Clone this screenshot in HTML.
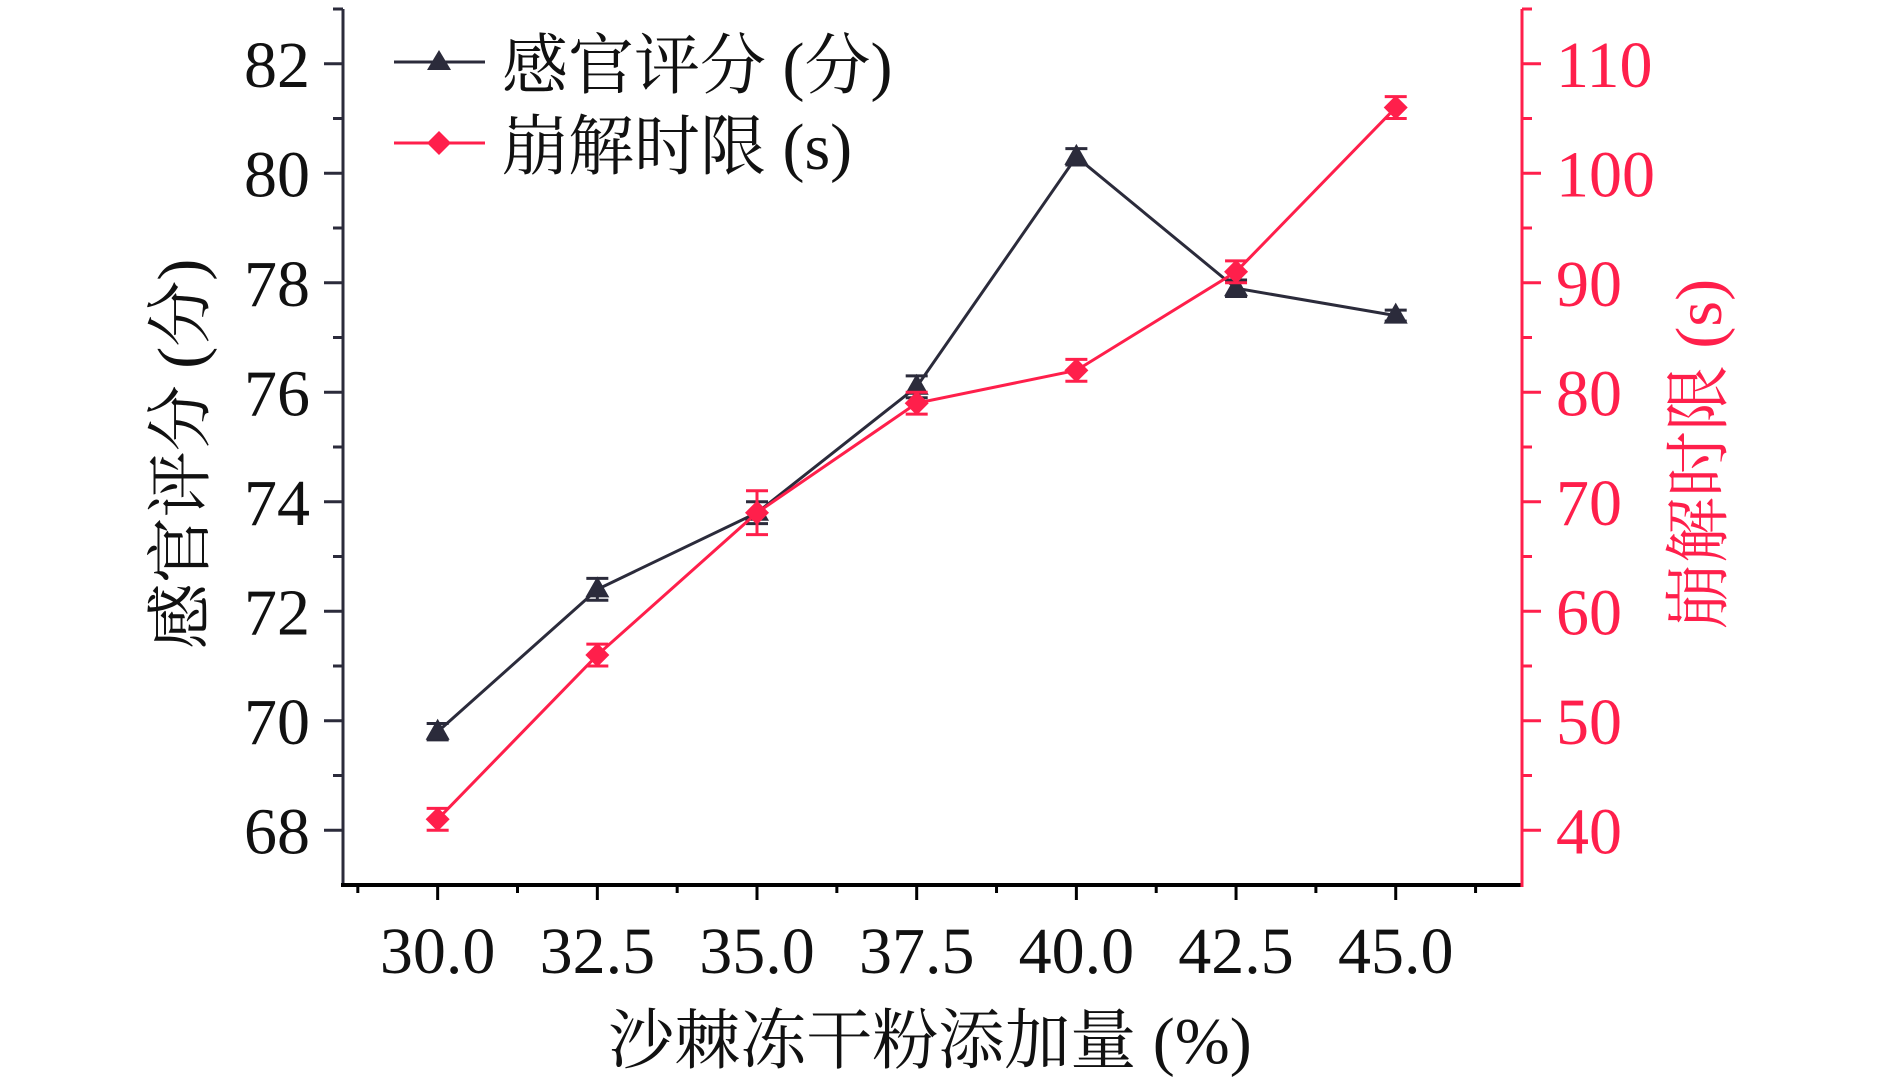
<!DOCTYPE html>
<html><head><meta charset="utf-8"><style>
html,body{margin:0;padding:0;background:#fff;}
svg{display:block;}
text{font-family:"Liberation Serif","Times New Roman","Noto Serif CJK SC",serif;}
</style></head><body>
<svg id="chart" width="1890" height="1081" viewBox="0 0 1890 1081" xmlns="http://www.w3.org/2000/svg">
<g id="axes"></g><g id="series"></g>
<g>
  <line x1="394" y1="62" x2="485" y2="62" stroke="#2b2b3b" stroke-width="3"/>
  <polygon points="439,50 451,70 427,70" fill="#2b2b3b"/>
  <text x="502" y="88" font-size="66" fill="#111">感官评分 (分)</text>
  <line x1="394" y1="143" x2="485" y2="143" stroke="#ff1f4b" stroke-width="3"/>
  <polygon points="439,131 451,143 439,155 427,143" fill="#ff1f4b"/>
  <text x="502" y="169" font-size="66" fill="#111">崩解时限 (s)</text>
</g>
<text x="930" y="1063" font-size="66" text-anchor="middle" fill="#111">沙棘冻干粉添加量 (%)</text>
<text transform="translate(203,454) rotate(-90)" font-size="66" text-anchor="middle" fill="#111">感官评分 (分)</text>
<text transform="translate(1721,454) rotate(-90)" font-size="66" text-anchor="middle" fill="#ff1f4b">崩解时限 (s)</text>
</svg>
<script>
const categories=[30.0,32.5,35.0,37.5,40.0,42.5,45.0];
const xTickLabels=["30.0","32.5","35.0","37.5","40.0","42.5","45.0"];
const sensoryScores=[69.8,72.4,73.8,76.1,80.3,77.9,77.4];
const sensoryErrors=[0.15,0.2,0.2,0.2,0.15,0.15,0.1];
const disintegrationTimes=[41,56,69,79,82,91,106];
const disintegrationErrors=[1,1,2,1,1,1,1];
const leftTicks=[68,70,72,74,76,78,80,82];
const rightTicks=[40,50,60,70,80,90,100,110];

const NS="http://www.w3.org/2000/svg";
const L=343,R=1522,T=9,B=885;
const xMin=28.518,xMax=46.977;
const yLMin=67.0,yLMax=83.0;
const yRMin=35,yRMax=115;
const xs=v=>L+(v-xMin)/(xMax-xMin)*(R-L);
const yl=v=>B-(v-yLMin)/(yLMax-yLMin)*(B-T);
const yr=v=>B-(v-yRMin)/(yRMax-yRMin)*(B-T);
const DARK="#2b2b3b",RED="#ff1f4b";
function mk(tag,attrs,parent,txt){const e=document.createElementNS(NS,tag);for(const k in attrs)e.setAttribute(k,attrs[k]);if(txt!==undefined)e.textContent=txt;parent.appendChild(e);return e;}
const axes=document.getElementById('axes'),ser=document.getElementById('series');

let a=mk('line',{x1:L,y1:T,x2:L,y2:B,stroke:DARK,'stroke-width':3},axes);


a=mk('line',{x1:L-2,y1:B,x2:R,y2:B,stroke:'#000','stroke-width':4},axes);


a=mk('line',{x1:R,y1:T,x2:R,y2:B+2,stroke:RED,'stroke-width':3},axes);


mk('line',{x1:R,y1:T,x2:R+10,y2:T,stroke:RED,'stroke-width':3},axes);
mk('line',{x1:L,y1:T,x2:L-10,y2:T,stroke:DARK,'stroke-width':3},axes);

leftTicks.forEach(v=>{
  const y=yl(v);
  mk('line',{x1:L-19,y1:y,x2:L,y2:y,stroke:DARK,'stroke-width':3},axes);
  if(v+1<yLMax) mk('line',{x1:L-10,y1:yl(v+1),x2:L,y2:yl(v+1),stroke:DARK,'stroke-width':3},axes);
  const t=mk('text',{x:310,y:y+23,'font-size':66,'text-anchor':'end',fill:'#111'},axes,String(v));
  
  
});
rightTicks.forEach(v=>{
  const y=yr(v);
  mk('line',{x1:R,y1:y,x2:R+19,y2:y,stroke:RED,'stroke-width':3},axes);
  if(v+5<yRMax) mk('line',{x1:R,y1:yr(v+5),x2:R+10,y2:yr(v+5),stroke:RED,'stroke-width':3},axes);
  const t=mk('text',{x:1556,y:y+23,'font-size':66,fill:RED},axes,String(v));
  
  
});
mk('line',{x1:xs(28.75),y1:B,x2:xs(28.75),y2:B+8,stroke:'#000','stroke-width':3},axes);
categories.forEach((c,i)=>{
  const x=xs(c);
  mk('line',{x1:x,y1:B,x2:x,y2:B+15,stroke:'#000','stroke-width':3},axes);
  mk('line',{x1:xs(c+1.25),y1:B,x2:xs(c+1.25),y2:B+8,stroke:'#000','stroke-width':3},axes);
  const t=mk('text',{x:x,y:973,'font-size':66,'text-anchor':'middle',fill:'#111'},axes,xTickLabels[i]);
  
  
});

function drawSeries(vals,errs,yf,color,shape,name){
  const pts=categories.map((c,i)=>xs(c)+','+yf(vals[i])).join(' ');
  const pl=mk('polyline',{points:pts,fill:'none',stroke:color,'stroke-width':3},ser);
  
  
  categories.forEach((c,i)=>{
    const x=xs(c),y=yf(vals[i]),y1=yf(vals[i]+errs[i]),y2=yf(vals[i]-errs[i]);
    mk('line',{x1:x,y1:y1,x2:x,y2:y2,stroke:color,'stroke-width':3},ser);
    mk('line',{x1:x-11,y1:y1,x2:x+11,y2:y1,stroke:color,'stroke-width':3},ser);
    mk('line',{x1:x-11,y1:y2,x2:x+11,y2:y2,stroke:color,'stroke-width':3},ser);
    let p;
    if(shape==='tri') p=mk('polygon',{points:`${x},${y-13} ${x+12},${y+8} ${x-12},${y+8}`,fill:color},ser);
    else p=mk('polygon',{points:`${x},${y-12} ${x+12},${y} ${x},${y+12} ${x-12},${y}`,fill:color},ser);
    
    
  });
}
drawSeries(sensoryScores,sensoryErrors,yl,DARK,'tri','sensory-score');
drawSeries(disintegrationTimes,disintegrationErrors,yr,RED,'dia','disintegration-time');
</script>
</body></html>
